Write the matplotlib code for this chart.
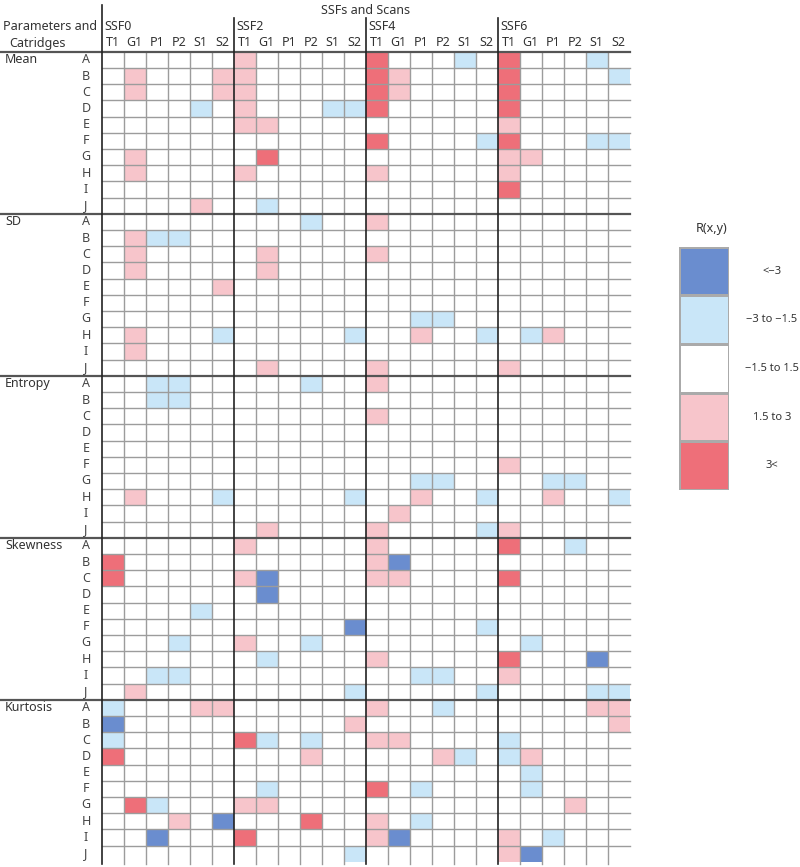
import numpy as np
import matplotlib
matplotlib.use("Agg")
import matplotlib.pyplot as plt
from matplotlib.colors import ListedColormap, BoundaryNorm

# ---------------- data ----------------
ssfs = ["SSF0", "SSF2", "SSF4", "SSF6"]
scans = ["T1", "G1", "P1", "P2", "S1", "S2"]
parameters = ["Mean", "SD", "Entropy", "Skewness", "Kurtosis"]
cartridges = ["A", "B", "C", "D", "E", "F", "G", "H", "I", "J"]
legend_labels = ["<\u22123", "\u22123 to \u22121.5", "\u22121.5 to 1.5", "1.5 to 3", "3<"]
legend_codes = [-2, -1, 0, 1, 2]

# codes: -2 (<-3), -1 (-3 to -1.5), 0 (-1.5 to 1.5), 1 (1.5 to 3), 2 (3<)
#          SSF0 T1 G1 P1 P2 S1 S2 | SSF2 ... | SSF4 ... | SSF6 ...
mean = [
    [0, 0, 0, 0, 0, 0,  1, 0, 0, 0, 0, 0,  2, 0, 0, 0, -1, 0,  2, 0, 0, 0, -1, 0],
    [0, 1, 0, 0, 0, 1,  1, 0, 0, 0, 0, 0,  2, 1, 0, 0, 0, 0,  2, 0, 0, 0, 0, -1],
    [0, 1, 0, 0, 0, 1,  1, 0, 0, 0, 0, 0,  2, 1, 0, 0, 0, 0,  2, 0, 0, 0, 0, 0],
    [0, 0, 0, 0, -1, 0,  1, 0, 0, 0, -1, -1,  2, 0, 0, 0, 0, 0,  2, 0, 0, 0, 0, 0],
    [0, 0, 0, 0, 0, 0,  1, 1, 0, 0, 0, 0,  0, 0, 0, 0, 0, 0,  1, 0, 0, 0, 0, 0],
    [0, 0, 0, 0, 0, 0,  0, 0, 0, 0, 0, 0,  2, 0, 0, 0, 0, -1,  2, 0, 0, 0, -1, -1],
    [0, 1, 0, 0, 0, 0,  0, 2, 0, 0, 0, 0,  0, 0, 0, 0, 0, 0,  1, 1, 0, 0, 0, 0],
    [0, 1, 0, 0, 0, 0,  1, 0, 0, 0, 0, 0,  1, 0, 0, 0, 0, 0,  1, 0, 0, 0, 0, 0],
    [0, 0, 0, 0, 0, 0,  0, 0, 0, 0, 0, 0,  0, 0, 0, 0, 0, 0,  2, 0, 0, 0, 0, 0],
    [0, 0, 0, 0, 1, 0,  0, -1, 0, 0, 0, 0,  0, 0, 0, 0, 0, 0,  0, 0, 0, 0, 0, 0],
]
sd = [
    [0, 0, 0, 0, 0, 0,  0, 0, 0, -1, 0, 0,  1, 0, 0, 0, 0, 0,  0, 0, 0, 0, 0, 0],
    [0, 1, -1, -1, 0, 0,  0, 0, 0, 0, 0, 0,  0, 0, 0, 0, 0, 0,  0, 0, 0, 0, 0, 0],
    [0, 1, 0, 0, 0, 0,  0, 1, 0, 0, 0, 0,  1, 0, 0, 0, 0, 0,  0, 0, 0, 0, 0, 0],
    [0, 1, 0, 0, 0, 0,  0, 1, 0, 0, 0, 0,  0, 0, 0, 0, 0, 0,  0, 0, 0, 0, 0, 0],
    [0, 0, 0, 0, 0, 1,  0, 0, 0, 0, 0, 0,  0, 0, 0, 0, 0, 0,  0, 0, 0, 0, 0, 0],
    [0, 0, 0, 0, 0, 0,  0, 0, 0, 0, 0, 0,  0, 0, 0, 0, 0, 0,  0, 0, 0, 0, 0, 0],
    [0, 0, 0, 0, 0, 0,  0, 0, 0, 0, 0, 0,  0, 0, -1, -1, 0, 0,  0, 0, 0, 0, 0, 0],
    [0, 1, 0, 0, 0, -1,  0, 0, 0, 0, 0, -1,  0, 0, 1, 0, 0, -1,  0, -1, 1, 0, 0, 0],
    [0, 1, 0, 0, 0, 0,  0, 0, 0, 0, 0, 0,  0, 0, 0, 0, 0, 0,  0, 0, 0, 0, 0, 0],
    [0, 0, 0, 0, 0, 0,  0, 1, 0, 0, 0, 0,  1, 0, 0, 0, 0, 0,  1, 0, 0, 0, 0, 0],
]
entropy = [
    [0, 0, -1, -1, 0, 0,  0, 0, 0, -1, 0, 0,  1, 0, 0, 0, 0, 0,  0, 0, 0, 0, 0, 0],
    [0, 0, -1, -1, 0, 0,  0, 0, 0, 0, 0, 0,  0, 0, 0, 0, 0, 0,  0, 0, 0, 0, 0, 0],
    [0, 0, 0, 0, 0, 0,  0, 0, 0, 0, 0, 0,  1, 0, 0, 0, 0, 0,  0, 0, 0, 0, 0, 0],
    [0, 0, 0, 0, 0, 0,  0, 0, 0, 0, 0, 0,  0, 0, 0, 0, 0, 0,  0, 0, 0, 0, 0, 0],
    [0, 0, 0, 0, 0, 0,  0, 0, 0, 0, 0, 0,  0, 0, 0, 0, 0, 0,  0, 0, 0, 0, 0, 0],
    [0, 0, 0, 0, 0, 0,  0, 0, 0, 0, 0, 0,  0, 0, 0, 0, 0, 0,  1, 0, 0, 0, 0, 0],
    [0, 0, 0, 0, 0, 0,  0, 0, 0, 0, 0, 0,  0, 0, -1, -1, 0, 0,  0, 0, -1, -1, 0, 0],
    [0, 1, 0, 0, 0, -1,  0, 0, 0, 0, 0, -1,  0, 0, 1, 0, 0, -1,  0, 0, 1, 0, 0, -1],
    [0, 0, 0, 0, 0, 0,  0, 0, 0, 0, 0, 0,  0, 1, 0, 0, 0, 0,  0, 0, 0, 0, 0, 0],
    [0, 0, 0, 0, 0, 0,  0, 1, 0, 0, 0, 0,  1, 0, 0, 0, 0, -1,  1, 0, 0, 0, 0, 0],
]
skewness = [
    [0, 0, 0, 0, 0, 0,  1, 0, 0, 0, 0, 0,  1, 0, 0, 0, 0, 0,  2, 0, 0, -1, 0, 0],
    [2, 0, 0, 0, 0, 0,  0, 0, 0, 0, 0, 0,  1, -2, 0, 0, 0, 0,  0, 0, 0, 0, 0, 0],
    [2, 0, 0, 0, 0, 0,  1, -2, 0, 0, 0, 0,  1, 1, 0, 0, 0, 0,  2, 0, 0, 0, 0, 0],
    [0, 0, 0, 0, 0, 0,  0, -2, 0, 0, 0, 0,  0, 0, 0, 0, 0, 0,  0, 0, 0, 0, 0, 0],
    [0, 0, 0, 0, -1, 0,  0, 0, 0, 0, 0, 0,  0, 0, 0, 0, 0, 0,  0, 0, 0, 0, 0, 0],
    [0, 0, 0, 0, 0, 0,  0, 0, 0, 0, 0, -2,  0, 0, 0, 0, 0, -1,  0, 0, 0, 0, 0, 0],
    [0, 0, 0, -1, 0, 0,  1, 0, 0, -1, 0, 0,  0, 0, 0, 0, 0, 0,  0, -1, 0, 0, 0, 0],
    [0, 0, 0, 0, 0, 0,  0, -1, 0, 0, 0, 0,  1, 0, 0, 0, 0, 0,  2, 0, 0, 0, -2, 0],
    [0, 0, -1, -1, 0, 0,  0, 0, 0, 0, 0, 0,  0, 0, -1, -1, 0, 0,  1, 0, 0, 0, 0, 0],
    [0, 1, 0, 0, 0, 0,  0, 0, 0, 0, 0, -1,  0, 0, 0, 0, 0, -1,  0, 0, 0, 0, -1, -1],
]
kurtosis = [
    [-1, 0, 0, 0, 1, 1,  0, 0, 0, 0, 0, 0,  1, 0, 0, -1, 0, 0,  0, 0, 0, 0, 1, 1],
    [-2, 0, 0, 0, 0, 0,  0, 0, 0, 0, 0, 1,  0, 0, 0, 0, 0, 0,  0, 0, 0, 0, 0, 1],
    [-1, 0, 0, 0, 0, 0,  2, -1, 0, -1, 0, 0,  1, 1, 0, 0, 0, 0,  -1, 0, 0, 0, 0, 0],
    [2, 0, 0, 0, 0, 0,  0, 0, 0, 1, 0, 0,  0, 0, 0, 1, -1, 0,  -1, 1, 0, 0, 0, 0],
    [0, 0, 0, 0, 0, 0,  0, 0, 0, 0, 0, 0,  0, 0, 0, 0, 0, 0,  0, -1, 0, 0, 0, 0],
    [0, 0, 0, 0, 0, 0,  0, -1, 0, 0, 0, 0,  2, 0, -1, 0, 0, 0,  0, -1, 0, 0, 0, 0],
    [0, 2, -1, 0, 0, 0,  1, 1, 0, 0, 0, 0,  0, 0, 0, 0, 0, 0,  0, 0, 0, 1, 0, 0],
    [0, 0, 0, 1, 0, -2,  0, 0, 0, 2, 0, 0,  1, 0, -1, 0, 0, 0,  0, 0, 0, 0, 0, 0],
    [0, 0, -2, 0, 0, 0,  2, 0, 0, 0, 0, 0,  1, -2, 0, 0, 0, 0,  1, 0, -1, 0, 0, 0],
    [0, 0, 0, 0, 0, 0,  0, 0, 0, 0, 0, -1,  0, 0, 0, 0, 0, 0,  1, -2, 0, 0, 0, 0],
]

# ---------------- styling ----------------
colors = ["#6A8DCF", "#C9E6F8", "#FFFFFF", "#F7C5CB", "#EE6F79"]
cmap = ListedColormap(colors)
norm = BoundaryNorm([-2.5, -1.5, -0.5, 0.5, 1.5, 2.5], cmap.N)
plt.rcParams["font.family"] = ["Noto Sans", "DejaVu Sans"]
TXT = "#333333"
FS = 9

data = np.array(mean + sd + entropy + skewness + kurtosis)
nrows, ncols = data.shape

W, H = 800, 867
gx0, gx1, gy0, gy1 = 101.7, 629.7, 51.7, 861.7
cw = (gx1 - gx0) / ncols
rh = (gy1 - gy0) / nrows


def px2x(p):
    return (p - gx0) / cw


def py2y(p):
    return (p - gy0) / rh


fig = plt.figure(figsize=(W / 100, H / 100), dpi=100)
ax = fig.add_axes([gx0 / W, 1 - gy1 / H, (gx1 - gx0) / W, (gy1 - gy0) / H])
ax.pcolormesh(np.arange(ncols + 1), np.arange(nrows + 1), data,
              cmap=cmap, norm=norm, edgecolors="none")
ax.set_xlim(0, ncols)
ax.set_ylim(nrows, 0)
ax.axis("off")

# thin grid lines
for j in range(1, ncols):
    if j % 6 != 0:
        ax.plot([j, j], [0, nrows + 0.15], color="#9c9c9c", lw=1.0, clip_on=False, zorder=3)
for i in range(1, nrows):
    if i % 10 != 0:
        ax.plot([0, ncols], [i, i], color="#9c9c9c", lw=1.0, clip_on=False, zorder=3)

# thick separators
for b in range(0, nrows, 10):
    ax.plot([px2x(0), ncols], [b, b], color="#555555", lw=1.6, clip_on=False, zorder=4)
for k in range(0, ncols, 6):
    top = py2y(5) if k == 0 else py2y(18)
    ax.plot([k, k], [top, nrows + 0.15], color="#222222", lw=1.2, clip_on=False, zorder=5)

# header texts
ax.text(ncols / 2, py2y(10), "SSFs and Scans", ha="center", va="center", fontsize=FS, color=TXT)
ax.text(px2x(3), py2y(27), "Parameters and", ha="left", va="center", fontsize=FS, color=TXT)
ax.text(px2x(9), py2y(43), "Catridges", ha="left", va="center", fontsize=FS, color=TXT)
for i, s in enumerate(ssfs):
    ax.text(6 * i + 0.1, py2y(27), s, ha="left", va="center", fontsize=FS, color=TXT)
for j in range(ncols):
    ax.text(j + 0.5, py2y(43), scans[j % 6], ha="center", va="center", fontsize=FS, color=TXT)

# row labels
for p, name in enumerate(parameters):
    ax.text(px2x(5), 10 * p + 0.5, name, ha="left", va="center", fontsize=FS, color=TXT)
    for r, c in enumerate(cartridges):
        ax.text(px2x(86), 10 * p + r + 0.5, c, ha="center", va="center", fontsize=FS, color="#444444")

# legend
lx0, lx1, ly0, ly1 = 679, 729, 246.7, 490
lax = fig.add_axes([lx0 / W, 1 - ly1 / H, (lx1 - lx0) / W, (ly1 - ly0) / H])
lax.pcolormesh(np.array(legend_codes).reshape(-1, 1), cmap=cmap, norm=norm,
               edgecolors="#aaaaaa", linewidth=0.8)
lax.set_xlim(0, 1)
lax.set_ylim(len(legend_codes), 0)
lax.axis("off")
for i, lab in enumerate(legend_labels):
    lax.text((772 - lx0) / (lx1 - lx0), i + 0.5, lab, ha="center", va="center",
             fontsize=8, color=TXT, clip_on=False)
lax.text((712 - lx0) / (lx1 - lx0), -0.38, "R(x,y)", ha="center", va="center",
         fontsize=FS, color=TXT, clip_on=False)

fig.savefig("out.png", dpi=100, facecolor="white")
